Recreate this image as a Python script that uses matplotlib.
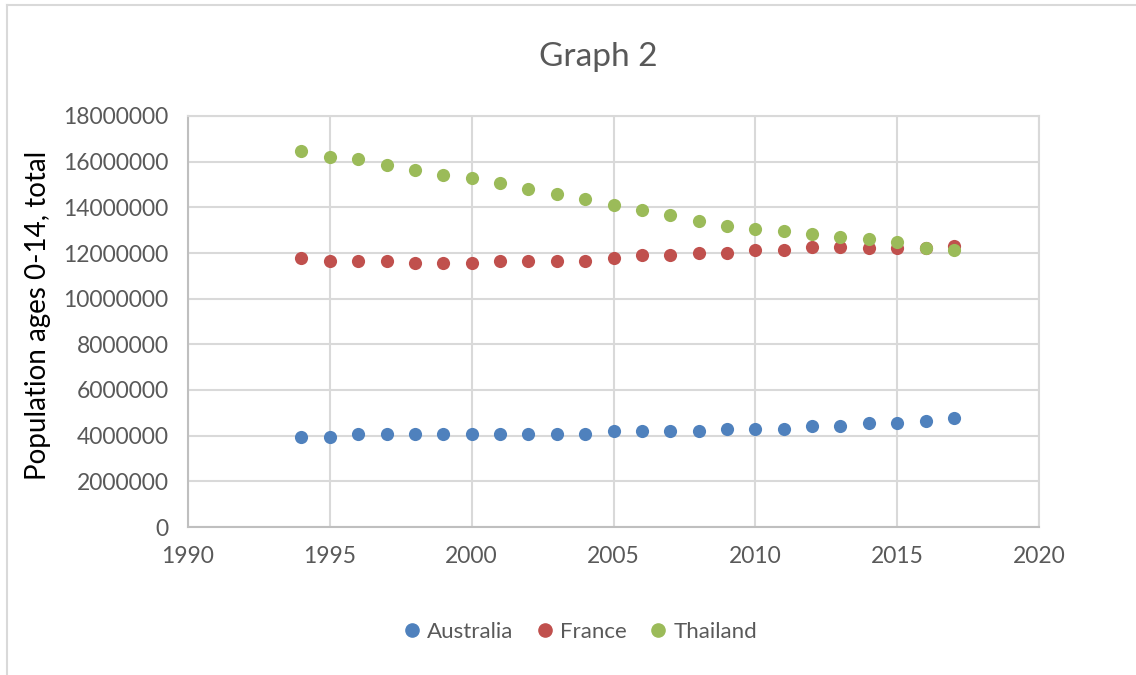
import matplotlib
matplotlib.use("Agg")
import matplotlib.pyplot as plt
from matplotlib.lines import Line2D

plt.rcParams['font.family'] = ['Lato', 'DejaVu Sans']

years = list(range(1994, 2018))
australia = [3.96, 3.96, 4.09, 4.09, 4.09, 4.09, 4.09, 4.09, 4.07, 4.07, 4.07, 4.19,
             4.19, 4.19, 4.19, 4.31, 4.31, 4.31, 4.42, 4.42, 4.54, 4.54, 4.66, 4.76]
france = [11.78, 11.66, 11.66, 11.66, 11.55, 11.55, 11.55, 11.66, 11.66, 11.66, 11.66, 11.78,
          11.91, 11.91, 12.02, 12.02, 12.13, 12.13, 12.25, 12.25, 12.24, 12.22, 12.24, 12.31]
thailand = [16.46, 16.22, 16.11, 15.87, 15.64, 15.40, 15.29, 15.05, 14.82, 14.59, 14.35, 14.12,
            13.89, 13.67, 13.42, 13.18, 13.07, 12.97, 12.83, 12.72, 12.60, 12.48, 12.24, 12.13]
series_names = ["Australia", "France", "Thailand"]
colors = ["#4F81BD", "#C0504D", "#9BBB59"]

fig = plt.figure(figsize=(11.36, 6.75), dpi=100)
ax = fig.add_axes([188/1136, 1-527/675, (1039-188)/1136, (527-116)/675])

for vals, name, c in zip([australia, france, thailand], series_names, colors):
    ax.scatter(years, [v * 1e6 for v in vals], s=90, color=c, label=name, zorder=3, linewidths=0)

ax.set_xlim(1990, 2020)
ax.set_ylim(0, 18000000)
ax.set_xticks(range(1990, 2021, 5))
ax.set_yticks(range(0, 18000001, 2000000))
ax.set_yticklabels([str(v) for v in range(0, 18000001, 2000000)])
ax.grid(True, color="#D9D9D9", linewidth=1.5, zorder=0)
ax.set_axisbelow(True)
for s in ax.spines.values():
    s.set_color("#D9D9D9")
    s.set_linewidth(1.5)
ax.spines['left'].set_color("#BFBFBF")
ax.spines['bottom'].set_color("#BFBFBF")
ax.tick_params(axis='both', length=0, labelsize=16.5, colors="#595959", pad=14)

fig.text(38/1136, 1-315/675, "Population ages 0-14, total", rotation=90, fontsize=20,
         ha='center', va='center', color='black')

fig.text(598/1136, 1-57/675, "Graph 2", fontsize=24, ha='center', va='center', color="#595959")

handles = [Line2D([], [], marker='o', linestyle='none', color=c, markersize=9.5) for c in colors]
fig.legend(handles, series_names, loc='center', bbox_to_anchor=(580/1136, 1-632/675),
           ncol=3, frameon=False, fontsize=16, handlelength=0.8, handletextpad=0.3,
           columnspacing=1.0, labelcolor="#595959")

# chart border (left & top visible)
fig.add_artist(Line2D([7/1136, 7/1136], [0, 1-5/675], color="#D9D9D9", linewidth=1.5, transform=fig.transFigure))
fig.add_artist(Line2D([7/1136, 1], [1-5/675, 1-5/675], color="#D9D9D9", linewidth=1.5, transform=fig.transFigure))

fig.savefig("out.png", dpi=100)
